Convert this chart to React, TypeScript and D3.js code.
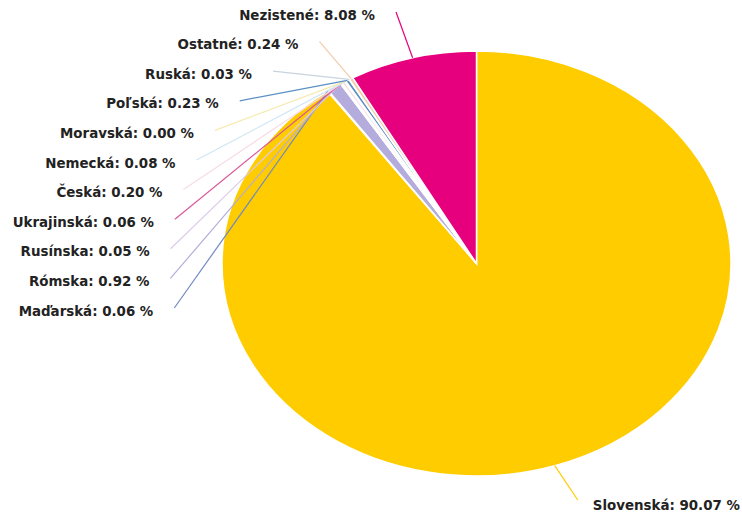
import React, { useEffect, useRef } from 'react';
import * as d3 from 'd3';

// národnosť – podiel obyvateľov (%)
const categories = [
  'Slovenská', 'Maďarská', 'Rómska', 'Rusínska', 'Ukrajinská', 'Česká',
  'Nemecká', 'Moravská', 'Poľská', 'Ruská', 'Ostatné', 'Nezistené',
];
const shares = [90.07, 0.06, 0.92, 0.05, 0.06, 0.2, 0.08, 0.0, 0.23, 0.03, 0.24, 8.08];
const colors = [
  '#ffcc00', '#7189c2', '#b4acdc', '#dccbe9', '#d9579a', '#f7dbe6',
  '#cfe6f4', '#f6eab0', '#5b8ec4', '#c9d3dd', '#f5cba9', '#e6007e',
];

const WIDTH = 742;
const HEIGHT = 515;

const App: React.FC = () => {
  const svgRef = useRef<SVGSVGElement>(null);

  useEffect(() => {
    if (!svgRef.current) return;
    const svg = d3.select(svgRef.current);
    svg.selectAll('*').remove();

    const cx = 476.5;
    const cy = 263.5;
    const r = 212.5; // vertical radius
    const sx = 254.5 / 212.5; // pie is stretched horizontally

    const arcs = d3.pie<number>().sort(null).value(d => d)(shares);
    const arc = d3.arc<d3.PieArcDatum<number>>().innerRadius(0).outerRadius(r);

    // slices
    svg.append('g')
      .attr('transform', `translate(${cx},${cy}) scale(${sx},1)`)
      .selectAll('path')
      .data(arcs)
      .enter()
      .append('path')
      .attr('d', arc)
      .attr('fill', (_, i) => colors[i])
      .attr('stroke', '#ffffff')
      .attr('stroke-width', 1.5)
      .attr('vector-effect', 'non-scaling-stroke');

    const edge = (a: d3.PieArcDatum<number>) => {
      const m = (a.startAngle + a.endAngle) / 2;
      return [cx + sx * r * Math.sin(m), cy - r * Math.cos(m)];
    };

    // label curve on the left side
    const lcx = 476;
    const lcy = 268;
    const lrx = 327;
    const lry = 266;
    const rowTop = 15;
    const rowStep = 29.6;

    const font = (t: d3.Selection<SVGTextElement, unknown, null, undefined>) =>
      t.attr('font-family', '"DejaVu Sans", Verdana, sans-serif')
        .attr('font-size', '13.4px')
        .attr('font-weight', 'bold')
        .attr('fill', '#222222')
        .attr('dominant-baseline', 'central');

    const labels = svg.append('g');
    const fmt = (v: number) => `${v.toFixed(2)} %`;

    arcs.forEach((a, i) => {
      const [ex, ey] = edge(a);
      if (i === 0) {
        // right-hand label
        const ly = 505;
        const lx = ex + 23;
        labels.append('line')
          .attr('x1', ex).attr('y1', ey)
          .attr('x2', lx).attr('y2', ly - 5)
          .attr('stroke', colors[i])
          .attr('stroke-width', 1.2);
        labels.append('text')
          .attr('x', lx + 15)
          .attr('y', ly)
          .attr('text-anchor', 'start')
          .call(font)
          .text(`${categories[i]}: ${fmt(shares[i])}`);
        return;
      }
      const row = categories.length - 1 - i;
      const ly = rowTop + row * rowStep;
      const dy = (ly - lcy) / lry;
      const tx = lcx - lrx * Math.sqrt(Math.max(0, 1 - dy * dy));
      labels.append('line')
        .attr('x1', ex).attr('y1', ey)
        .attr('x2', tx + 21).attr('y2', ly - 3)
        .attr('stroke', colors[i])
        .attr('stroke-width', 1.2);
      labels.append('text')
        .attr('x', tx)
        .attr('y', ly)
        .attr('text-anchor', 'end')
        .call(font)
        .text(`${categories[i]}: ${fmt(shares[i])}`);
    });
  }, []);

  return (
    <div style={{ position: 'absolute', left: 0, top: 0, background: '#ffffff' }}>
      <svg ref={svgRef} width={WIDTH} height={HEIGHT} style={{ display: 'block' }} />
    </div>
  );
};

export default App;
